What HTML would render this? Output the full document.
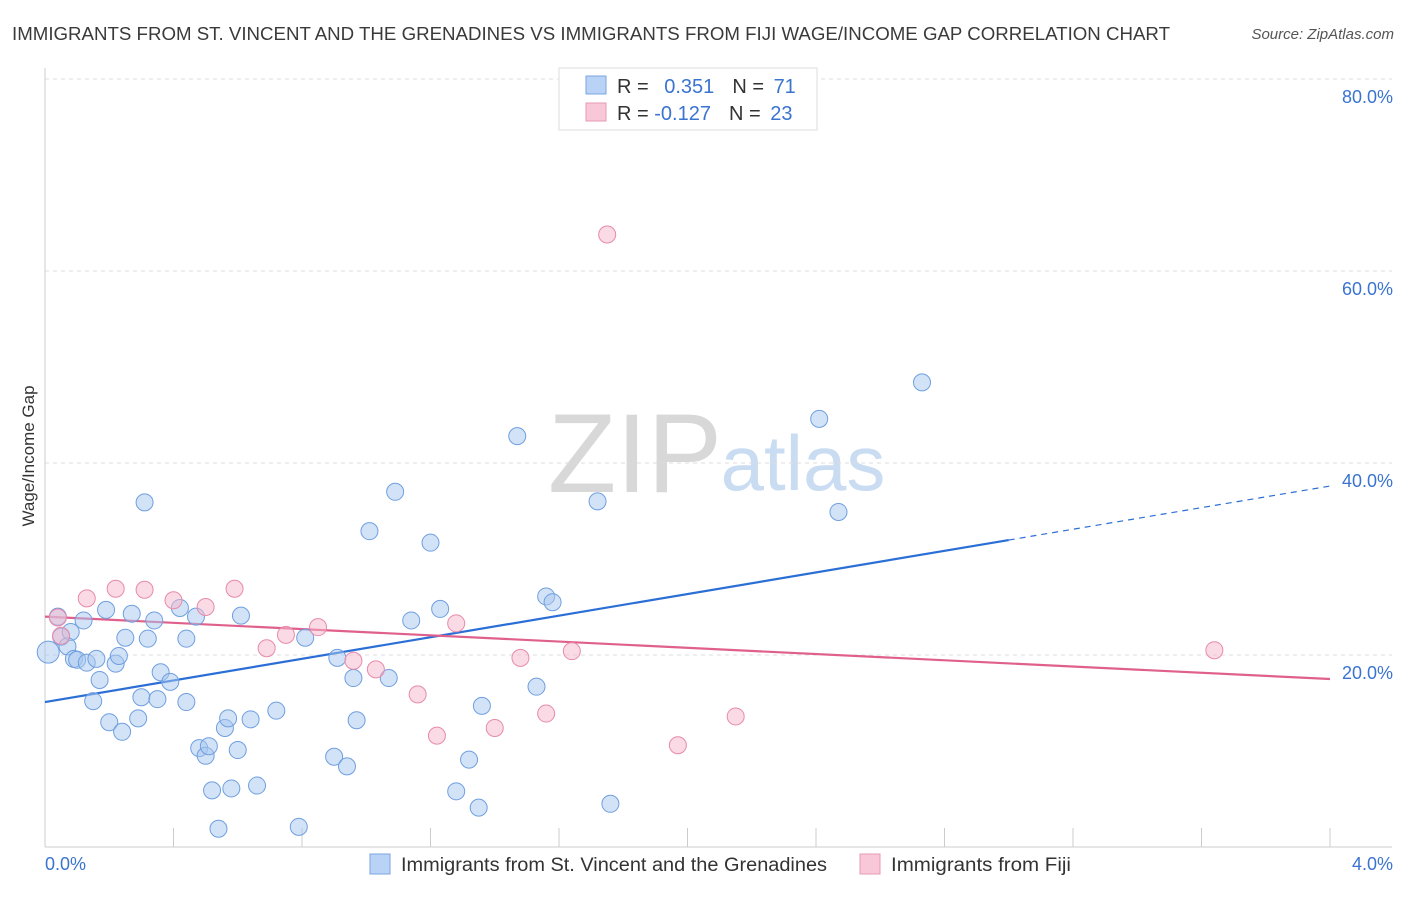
<!DOCTYPE html>
<html><head><meta charset="utf-8"><style>
body{margin:0;background:#fff;font-family:"Liberation Sans",sans-serif;}
svg text{font-family:"Liberation Sans",sans-serif;}
</style></head><body>
<svg id="chart" width="1406" height="892" xmlns="http://www.w3.org/2000/svg">
<text x="12" y="40" font-size="18" fill="#3a3a3a" textLength="1158" lengthAdjust="spacingAndGlyphs">IMMIGRANTS FROM ST. VINCENT AND THE GRENADINES VS IMMIGRANTS FROM FIJI WAGE/INCOME GAP CORRELATION CHART</text>
<text x="1394" y="39" font-size="15" fill="#555" font-style="italic" text-anchor="end">Source: ZipAtlas.com</text>
<g>
<text x="635" y="492" font-size="112" fill="#d8d8d8" font-family="Liberation Serif" text-anchor="middle">ZIP</text>
<text x="803" y="490" font-size="78" fill="#c9dcf2" text-anchor="middle">atlas</text>
</g>
<g id="grid"></g><g id="axes"></g><g id="lines"></g><g id="pts"></g>
<text transform="translate(34,456) rotate(-90)" font-size="17" fill="#333" text-anchor="middle">Wage/Income Gap</text>
<g>
<rect x="559" y="68" width="258" height="62" fill="#fff" stroke="#ddd"/>
<rect x="586" y="76" width="20" height="18" fill="#b8d3f5" stroke="#7aa6e0"/>
<rect x="586" y="103" width="20" height="18" fill="#f9c8d8" stroke="#e79ab4"/>
<text x="617" y="93" font-size="20" fill="#333">R = <tspan fill="#3a74d0" dx="10">0.351</tspan><tspan dx="18" fill="#333">N = </tspan><tspan fill="#3a74d0" dx="4">71</tspan></text>
<text x="617" y="120" font-size="20" fill="#333">R = <tspan fill="#3a74d0">-0.127</tspan><tspan dx="18" fill="#333">N = </tspan><tspan fill="#3a74d0" dx="4">23</tspan></text>
</g>
<g>
<rect x="370" y="854" width="20" height="20" fill="#b8d3f5" stroke="#7aa6e0"/>
<text x="401" y="871" font-size="19" fill="#333" textLength="426" lengthAdjust="spacingAndGlyphs">Immigrants from St. Vincent and the Grenadines</text>
<rect x="860" y="854" width="20" height="20" fill="#f9c8d8" stroke="#e79ab4"/>
<text x="891" y="871" font-size="19" fill="#333" textLength="180" lengthAdjust="spacingAndGlyphs">Immigrants from Fiji</text>
</g>
</svg>
<script>
const blueX=[.01,.04,.05,.08,.07,.09,.10,.12,.13,.15,.16,.17,.19,.20,.22,.23,.24,.25,.27,.29,.30,.31,.32,.34,.35,.36,.39,.42,.44,.44,.47,.48,.50,.51,.52,.54,.56,.57,.58,.60,.61,.64,.66,.72,.79,.81,.90,.91,.94,.96,.97,1.01,1.07,1.09,1.14,1.20,1.23,1.28,1.32,1.35,1.36,1.47,1.53,1.56,1.58,1.72,1.76,2.41,2.47,2.73];
const blueY=[20.3,24.0,21.9,22.4,20.9,19.6,19.5,23.6,19.2,15.2,19.6,17.4,24.7,13.0,19.1,19.9,12.0,21.8,24.3,13.4,15.6,35.9,21.7,23.6,15.4,18.2,17.2,24.9,15.1,21.7,24.0,10.3,9.5,10.5,5.9,1.9,12.4,13.4,6.1,10.1,24.1,13.3,6.4,14.2,2.1,21.8,9.4,19.7,8.4,17.6,13.2,32.9,17.6,37.0,23.6,31.7,24.8,5.8,9.1,4.1,14.7,42.8,16.7,26.1,25.5,36.0,4.5,44.6,34.9,48.4];
const pinkX=[.04,.05,.13,.22,.31,.40,.50,.59,.69,.75,.85,.96,1.03,1.16,1.22,1.28,1.40,1.48,1.56,1.64,1.75,1.97,2.15,3.64];
const pinkY=[23.9,22.0,25.9,26.9,26.8,25.7,25.0,26.9,20.7,22.1,22.9,19.4,18.5,15.9,11.6,23.3,12.4,19.7,13.9,20.4,63.8,10.6,13.6,20.5];
const yTicks=[20,40,60,80];
const xTickLabels=["0.0%","4.0%"];
const blueTrend=[15.1,37.6];
const pinkTrend=[24.0,17.5];
const NS="http://www.w3.org/2000/svg";
const sx=v=>45+v/4*1285, sy=v=>847-v*9.6;
function mk(tag,attrs,parent){const e=document.createElementNS(NS,tag);for(const k in attrs)e.setAttribute(k,attrs[k]);document.getElementById(parent).appendChild(e);return e;}
yTicks.forEach(t=>{
 const l=mk('line',{x1:45,x2:1392,y1:sy(t),y2:sy(t),stroke:'#ddd','stroke-dasharray':'4,4'},'grid');
 
 
 const tx=mk('text',{x:1393,y:sy(t)+24,'font-size':18,fill:'#3a74d0','text-anchor':'end'},'grid');
 tx.textContent=t.toFixed(1)+'%';
 
 
});
let a=mk('line',{x1:45,x2:45,y1:68,y2:847,stroke:'#ccc'},'axes');


a=mk('line',{x1:45,x2:1392,y1:847,y2:847,stroke:'#ccc'},'axes');


for(let i=1;i<=10;i++){
 const t=mk('line',{x1:sx(i*0.4),x2:sx(i*0.4),y1:828,y2:847,stroke:'#ccc'},'axes');
 
 
}
[[xTickLabels[0],45,'start'],[xTickLabels[1],1393,'end']].forEach(d=>{
 const t=mk('text',{x:d[1],y:870,'font-size':18,fill:'#3a74d0','text-anchor':d[2]},'axes');
 t.textContent=d[0];
 
 
});
function pts(X,Y,fill,stroke,name){X.forEach((x,i)=>{
 const c=mk('circle',{cx:sx(x),cy:sy(Y[i]),r:(i===0&&name==='blue-point')?11:8.5,fill:fill,'fill-opacity':0.5,stroke:stroke,'stroke-width':1},'pts');
 
 
});}
pts(blueX,blueY,'#a8c8f0','#6f9fe0','blue-point');
pts(pinkX,pinkY,'#f5b8cc','#e88aa9','pink-point');
const bAt=x=>blueTrend[0]+(blueTrend[1]-blueTrend[0])*x/4;
let l=mk('line',{x1:sx(0),y1:sy(bAt(0)),x2:sx(3.0),y2:sy(bAt(3.0)),stroke:'#2b6fd6','stroke-width':2.2},'lines');


l=mk('line',{x1:sx(3.0),y1:sy(bAt(3.0)),x2:sx(4),y2:sy(bAt(4)),stroke:'#2b6fd6','stroke-width':1.2,'stroke-dasharray':'6,5'},'lines');


l=mk('line',{x1:sx(0),y1:sy(pinkTrend[0]),x2:sx(4),y2:sy(pinkTrend[1]),stroke:'#e0608c','stroke-width':2.2},'lines');


</script>
</body></html>
